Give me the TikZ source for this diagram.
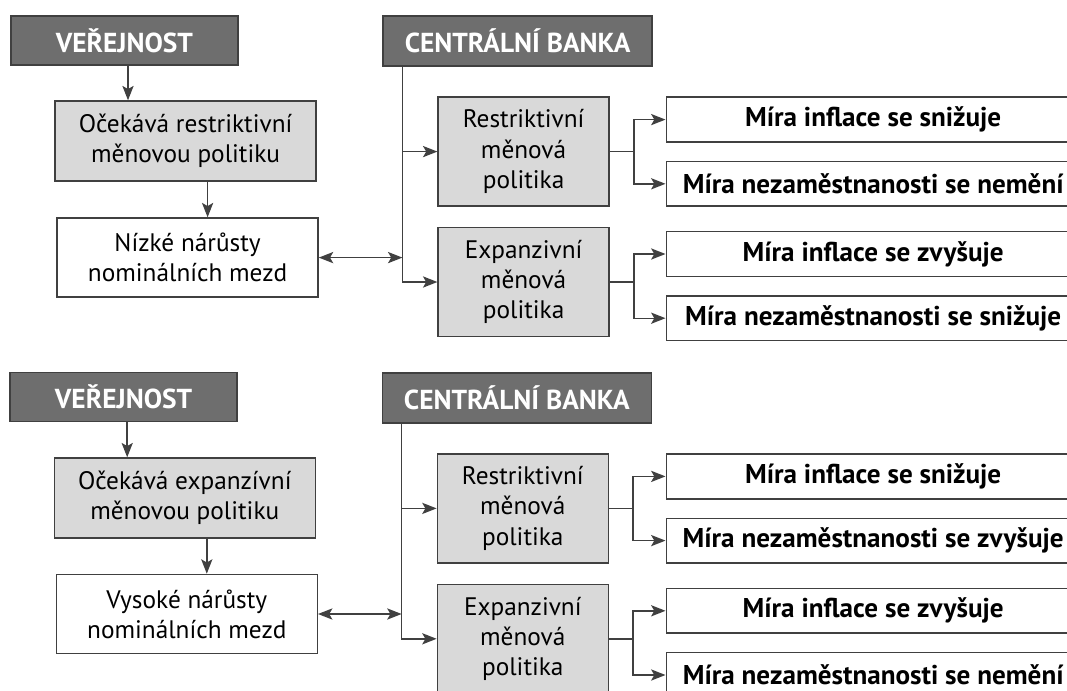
\documentclass[tikz,border=0pt]{standalone}
\usepackage{fontspec}
\setmainfont{PT Sans}
\usepackage{tikz}
\usetikzlibrary{arrows.meta, positioning, calc}
\definecolor{headgray}{HTML}{6E6E6E}
\definecolor{boxgray}{HTML}{D9D9D9}
\definecolor{linegray}{HTML}{404040}
\tikzset{
    head/.style={rectangle, draw=linegray, line width=1pt, fill=headgray, text=white, inner sep=0pt, align=center, font=\fontsize{19.5}{22}\selectfont\bfseries},
    block/.style={rectangle, draw=linegray, line width=1pt, inner sep=0pt, align=center, font=\fontsize{18}{21.5}\selectfont},
    shaded/.style={block, fill=boxgray},
    result/.style={block, fill=white, minimum width=10.35cm, minimum height=1.12cm, font=\fontsize{19.3}{22}\selectfont\bfseries},
    policy/.style={shaded, minimum width=4.275cm, minimum height=2.725cm},
    arrow/.style={-{Stealth[length=3.6mm, width=2.8mm, inset=0.8mm]}, draw=linegray, line width=1pt},
    dblarrow/.style={{Stealth[length=3.6mm, width=2.8mm, inset=0.8mm]}-{Stealth[length=3.6mm, width=2.8mm, inset=0.8mm]}, draw=linegray, line width=1pt},
}

\begin{document}
\begin{tikzpicture}[node distance=0.45cm and 0.5cm]
    \fill[white] (0,0) rectangle (26.675,-17.275);
    \useasboundingbox (0,0) rectangle (26.675,-17.275);
    \clip (0,0) rectangle (26.675,-17.275);
    % upper scheme
    \node[head, minimum width=5.675cm, minimum height=1.225cm] (pub) at (3.11,-1.01) {VEŘEJNOST};
    \node[shaded, minimum width=6.525cm, minimum height=2.0cm] (expect) at (4.64,-3.525) {Očekává restriktivní\\měnovou politiku};
    \node[block, minimum width=6.525cm, minimum height=1.98cm] (wage) at (4.69,-6.44) {Nízké nárůsty\\nominálních mezd};
    \node[head, minimum width=6.725cm, minimum height=1.25cm] (cb) at (12.94,-1.025) {CENTRÁLNÍ BANKA};
    \node[policy] (restr) at (13.09,-3.79) {Restriktivní\\měnová\\politika};
    \node[policy, below=0.5cm of restr] (expan) {Expanzivní\\měnová\\politika};
    \node[result] (inf) at (21.83,-2.99) {Míra inflace se snižuje};
    \node[result, below=0.45cm of inf] (une) {Míra nezaměstnanosti se nemění};
    \node[result] (infb) at (21.83,-6.35) {Míra inflace se zvyšuje};
    \node[result, below=0.45cm of infb] (uneb) {Míra nezaměstnanosti se snižuje};
    \coordinate (cbx) at ([xshift=0.5cm]cb.south west);
    \draw[arrow] (pub.south -| 3.2,0) -- (3.2,0 |- expect.north);
    \draw[arrow] ([xshift=0.55cm]expect.south) -- ([xshift=0.55cm]expect.south |- wage.north);
    \draw[arrow] (cbx) |- (restr);
    \draw[arrow] (cbx) |- (expan);
    \draw[dblarrow] (wage) -- (wage -| cbx);
    \draw[arrow] (restr.east) -- ++(0.6,0) |- (inf.west);
    \draw[arrow] (restr.east) -- ++(0.6,0) |- (une.west);
    \draw[arrow] (expan.east) -- ++(0.6,0) |- (infb.west);
    \draw[arrow] (expan.east) -- ++(0.6,0) |- (uneb.west);
    % lower scheme
    \node[head, minimum width=5.675cm, minimum height=1.225cm] (pub2) at (3.09,-9.92) {VEŘEJNOST};
    \node[shaded, minimum width=6.525cm, minimum height=2.0cm] (expect2) at (4.62,-12.45) {Očekává expanzívní\\měnovou politiku};
    \node[block, minimum width=6.525cm, minimum height=1.98cm] (wage2) at (4.67,-15.35) {Vysoké nárůsty\\nominálních mezd};
    \node[head, minimum width=6.725cm, minimum height=1.25cm] (cb2) at (12.92,-9.95) {CENTRÁLNÍ BANKA};
    \node[policy] (restr2) at (13.07,-12.71) {Restriktivní\\měnová\\politika};
    \node[policy, below=0.5cm of restr2] (expan2) {Expanzivní\\měnová\\politika};
    \node[result] (inf2) at (21.83,-11.91) {Míra inflace se snižuje};
    \node[result, below=0.45cm of inf2] (une2) {Míra nezaměstnanosti se zvyšuje};
    \node[result] (infb2) at (21.83,-15.27) {Míra inflace se zvyšuje};
    \node[result, below=0.45cm of infb2] (uneb2) {Míra nezaměstnanosti se nemění};
    \coordinate (cbx2) at ([xshift=0.5cm]cb2.south west);
    \draw[arrow] (pub2.south -| 3.18,0) -- (3.18,0 |- expect2.north);
    \draw[arrow] ([xshift=0.55cm]expect2.south) -- ([xshift=0.55cm]expect2.south |- wage2.north);
    \draw[arrow] (cbx2) |- (restr2);
    \draw[arrow] (cbx2) |- (expan2);
    \draw[dblarrow] (wage2) -- (wage2 -| cbx2);
    \draw[arrow] (restr2.east) -- ++(0.6,0) |- (inf2.west);
    \draw[arrow] (restr2.east) -- ++(0.6,0) |- (une2.west);
    \draw[arrow] (expan2.east) -- ++(0.6,0) |- (infb2.west);
    \draw[arrow] (expan2.east) -- ++(0.6,0) |- (uneb2.west);
\end{tikzpicture}
\end{document}
